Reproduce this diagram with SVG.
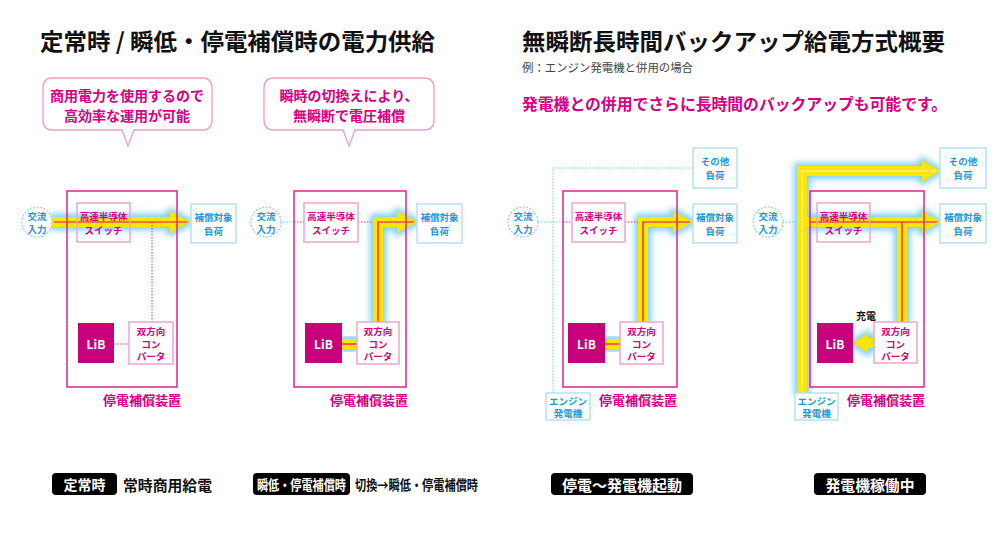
<svg xmlns="http://www.w3.org/2000/svg" width="1001" height="539" viewBox="0 0 1001 539">
<defs>
<style>
text{font-family:"Noto Sans CJK JP","Noto Sans",sans-serif;font-weight:bold;dominant-baseline:central;text-anchor:middle}
.ttl{font-size:23px;fill:#111;text-anchor:start}
.sub{font-size:11.5px;fill:#444;font-weight:normal;text-anchor:start}
.pk{font-size:16px;fill:#d4007f;text-anchor:start}
.co{fill:#fff;stroke:#eb9ecb;stroke-width:1.3}
.cot{font-size:14px;fill:#d4007f}
.dev{fill:none;stroke:#d42a8c;stroke-width:1.5}
.sw{fill:none;stroke:#eda6cf;stroke-width:1.5}
.cv{fill:#fff;stroke:#eda6cf;stroke-width:1.5}
.lib{fill:#c9007c}
.ld{fill:#fff;stroke:#aadcf3;stroke-width:1.3}
.cir{fill:#fff;stroke:#8dd0f0;stroke-width:1.2;stroke-dasharray:2 1.5}
.mt{font-size:9.5px;fill:#d4007f}
.bt{font-size:9.5px;fill:#1d98d5}
.lt{font-size:12px;fill:#fff}
.dl{font-size:13px;fill:#d4007f}
.bar{fill:#000}
.bw{fill:#fff}
.bk{fill:#111;text-anchor:start}
.glow{fill:#78cdf3;stroke:#78cdf3;stroke-width:6;stroke-linejoin:round;filter:url(#bl)}
.yel{fill:#ffe600}
.red{fill:none;stroke:#e4007f;stroke-width:1.2}
.pale{fill:none;stroke:#fff8b0;stroke-width:1}
.dotm{fill:none;stroke:#d9358f;stroke-width:1;stroke-dasharray:1.5 1.5}
.dotb{fill:none;stroke:#7cc8ee;stroke-width:1;stroke-dasharray:1.5 1.5}
</style>
<filter id="bl" x="-30%" y="-30%" width="160%" height="160%"><feGaussianBlur stdDeviation="3"/></filter>
<path id="a1" d="M52,217 H170 V211 L190,222 L170,233 V227 H52 Z"/>
<path id="a2" d="M373,322 V217 H397 V211 L417,222 L397,233 V227 H383 V322 Z"/>
<path id="a2b" d="M342,339 H357 V349 H342 Z"/>
<path id="a3" d="M638,322 V217 H673 V211 L693,222 L673,233 V227 H648 V322 Z"/>
<path id="a3b" d="M605,339 H620 V349 H605 Z"/>
<path id="a4" d="M797,393 V166 H922 V160 L940,171 L922,182 V176 H807 V393 Z"/>
<path id="a4b" d="M807,217 H922 V211 L940,222 L922,233 V227 H907 V322 H897 V227 H807 Z"/>
<path id="a4c" d="M874,338 H868 V333 L853,343 L868,353 V348 H874 Z"/>
</defs>
<rect width="1001" height="539" fill="#fff"/>

<g id="headings">
<text class="ttl" x="40" y="40" textLength="395" lengthAdjust="spacingAndGlyphs">定常時 / 瞬低・停電補償時の電力供給</text>
<text class="ttl" x="522" y="40" textLength="423" lengthAdjust="spacingAndGlyphs">無瞬断長時間バックアップ給電方式概要</text>
<text class="sub" x="522" y="67" textLength="171" lengthAdjust="spacingAndGlyphs">例：エンジン発電機と併用の場合</text>
<text class="pk" x="522" y="103" textLength="425" lengthAdjust="spacingAndGlyphs">発電機との併用でさらに長時間のバックアップも可能です。</text>
</g>

<g id="callout1">
<path class="co" d="M53,78 H202 Q212,78 212,88 V120 Q212,130 202,130 H134 L128,146 L122,130 H53 Q43,130 43,120 V88 Q43,78 53,78 Z"/>
<text class="cot" x="127" y="95">商用電力を使用するので</text>
<text class="cot" x="127" y="115">高効率な運用が可能</text>
</g>
<g id="callout2">
<path class="co" d="M274,78 H424 Q434,78 434,88 V120 Q434,130 424,130 H355 L349,146 L343,130 H274 Q264,130 264,120 V88 Q264,78 274,78 Z"/>
<text class="cot" x="349" y="95">瞬時の切換えにより、</text>
<text class="cot" x="349" y="115">無瞬断で電圧補償</text>
</g>

<g id="connectors">
<use href="#a1" class="glow"/><use href="#a2" class="glow"/><use href="#a2b" class="glow"/>
<use href="#a3" class="glow"/><use href="#a3b" class="glow"/>
<use href="#a4" class="glow"/><use href="#a4b" class="glow"/><use href="#a4c" class="glow"/>
<use href="#a1" class="yel"/><use href="#a2" class="yel"/><use href="#a2b" class="yel"/>
<use href="#a3" class="yel"/><use href="#a3b" class="yel"/>
<use href="#a4" class="yel"/><use href="#a4b" class="yel"/><use href="#a4c" class="yel"/>
<path class="red" d="M54,222 H187"/>
<path class="red" d="M378,322 V222 H414"/>
<path class="red" d="M342,344 H357"/>
<path class="red" d="M643,322 V222 H690"/>
<path class="red" d="M605,344 H620"/>
<path class="pale" d="M802,393 V171 H936"/>
<path class="red" d="M809,222 H937 M902,222 V322"/>
<path class="dotm" d="M152,222 V322 M114,344 H129"/>
<path class="dotb" d="M281,222 H294"/>
<path class="dotm" d="M294,222 H304 M358,222 H373"/>
<path class="dotb" d="M538,222 H563"/>
<path class="dotm" d="M563,222 H572 M625,222 H638"/>
<path class="dotb" d="M553,393 V168 H693"/>
<path class="dotb" d="M783,222 H797"/>
</g>

<!-- Panel 1 -->
<g id="p1-device"><rect class="dev" x="67" y="191" width="110" height="196"/><text class="dl" x="142" y="399">停電補償装置</text></g>
<g id="p1-input"><circle class="cir" cx="37" cy="222" r="15"/><text class="bt" x="37" y="215.5">交流</text><text class="bt" x="37" y="228.5">入力</text></g>
<g id="p1-switch"><rect class="sw" x="77" y="203" width="53" height="39"/><text class="mt" x="103.5" y="215.5">高速半導体</text><text class="mt" x="103.5" y="230">スイッチ</text></g>
<g id="p1-load"><rect class="ld" x="191" y="204" width="45" height="39"/><text class="bt" x="213.5" y="216.5">補償対象</text><text class="bt" x="213.5" y="231">負荷</text></g>
<g id="p1-lib"><rect class="lib" x="78" y="323" width="36" height="40"/><text class="lt" x="96" y="343">LiB</text></g>
<g id="p1-conv"><rect class="cv" x="129" y="322" width="44" height="42"/><text class="mt" x="151" y="331">双方向</text><text class="mt" x="151" y="343.5">コン</text><text class="mt" x="151" y="356">パータ</text></g>

<!-- Panel 2 -->
<g id="p2-device"><rect class="dev" x="294" y="191" width="112" height="196"/><text class="dl" x="369" y="399">停電補償装置</text></g>
<g id="p2-input"><circle class="cir" cx="266" cy="222" r="15"/><text class="bt" x="266" y="215.5">交流</text><text class="bt" x="266" y="228.5">入力</text></g>
<g id="p2-switch"><rect class="sw" x="304" y="203" width="54" height="39"/><text class="mt" x="331" y="215.5">高速半導体</text><text class="mt" x="331" y="230">スイッチ</text></g>
<g id="p2-load"><rect class="ld" x="417" y="204" width="45" height="39"/><text class="bt" x="439.5" y="216.5">補償対象</text><text class="bt" x="439.5" y="231">負荷</text></g>
<g id="p2-lib"><rect class="lib" x="305" y="323" width="37" height="40"/><text class="lt" x="323.5" y="343">LiB</text></g>
<g id="p2-conv"><rect class="cv" x="357" y="322" width="42" height="42"/><text class="mt" x="378" y="331">双方向</text><text class="mt" x="378" y="343.5">コン</text><text class="mt" x="378" y="356">パータ</text></g>

<!-- Panel 3 -->
<g id="p3-device"><rect class="dev" x="563" y="191" width="114" height="196"/><text class="dl" x="638" y="399">停電補償装置</text></g>
<g id="p3-input"><circle class="cir" cx="523" cy="222" r="15"/><text class="bt" x="523" y="215.5">交流</text><text class="bt" x="523" y="228.5">入力</text></g>
<g id="p3-switch"><rect class="sw" x="572" y="203" width="53" height="39"/><text class="mt" x="598.5" y="215.5">高速半導体</text><text class="mt" x="598.5" y="230">スイッチ</text></g>
<g id="p3-load"><rect class="ld" x="693" y="204" width="44" height="39"/><text class="bt" x="715" y="216.5">補償対象</text><text class="bt" x="715" y="231">負荷</text></g>
<g id="p3-other"><rect class="ld" x="693" y="148" width="44" height="40"/><text class="bt" x="715" y="161">その他</text><text class="bt" x="715" y="175">負荷</text></g>
<g id="p3-lib"><rect class="lib" x="568" y="323" width="37" height="40"/><text class="lt" x="586.5" y="343">LiB</text></g>
<g id="p3-conv"><rect class="cv" x="620" y="322" width="43" height="42"/><text class="mt" x="641.5" y="331">双方向</text><text class="mt" x="641.5" y="343.5">コン</text><text class="mt" x="641.5" y="356">パータ</text></g>
<g id="p3-engine"><rect class="ld" x="546" y="393" width="44" height="27"/><text class="bt" x="568" y="400.5">エンジン</text><text class="bt" x="568" y="413">発電機</text></g>

<!-- Panel 4 -->
<g id="p4-device"><rect class="dev" x="810" y="191" width="114" height="196"/><text class="dl" x="886" y="399">停電補償装置</text></g>
<g id="p4-input"><circle class="cir" cx="768" cy="222" r="15"/><text class="bt" x="768" y="215.5">交流</text><text class="bt" x="768" y="228.5">入力</text></g>
<g id="p4-switch"><rect class="sw" x="817" y="203" width="53" height="39"/><text class="mt" x="843.5" y="215.5">高速半導体</text><text class="mt" x="843.5" y="230">スイッチ</text></g>
<g id="p4-load"><rect class="ld" x="940" y="204" width="46" height="39"/><text class="bt" x="963" y="216.5">補償対象</text><text class="bt" x="963" y="231">負荷</text></g>
<g id="p4-other"><rect class="ld" x="940" y="148" width="46" height="40"/><text class="bt" x="963" y="161">その他</text><text class="bt" x="963" y="175">負荷</text></g>
<g id="p4-lib"><rect class="lib" x="817" y="323" width="36" height="40"/><text class="lt" x="835" y="343">LiB</text></g>
<g id="p4-conv"><rect class="cv" x="874" y="322" width="43" height="41"/><text class="mt" x="895.5" y="331">双方向</text><text class="mt" x="895.5" y="343.5">コン</text><text class="mt" x="895.5" y="356">パータ</text></g>
<g id="p4-engine"><rect class="ld" x="795" y="393" width="43" height="27"/><text class="bt" x="816.5" y="400.5">エンジン</text><text class="bt" x="816.5" y="413">発電機</text></g>
<g id="p4-charge"><text x="866" y="315" style="font-size:10px;fill:#111">充電</text></g>

<!-- Bottom labels -->
<g id="label1"><rect class="bar" x="52" y="473" width="65" height="22" rx="4"/><text class="bw" x="84.5" y="484" style="font-size:14px">定常時</text><text class="bk" x="123" y="484" style="font-size:14.5px" textLength="89" lengthAdjust="spacingAndGlyphs">常時商用給電</text></g>
<g id="label2"><rect class="bar" x="253" y="473" width="97" height="22" rx="4"/><text class="bw" x="301.5" y="484" style="font-size:13.5px" textLength="89" lengthAdjust="spacingAndGlyphs">瞬低・停電補償時</text><text class="bk" x="355" y="484" style="font-size:14px" textLength="123" lengthAdjust="spacingAndGlyphs">切換→瞬低・停電補償時</text></g>
<g id="label3"><rect class="bar" x="551" y="473" width="142" height="22" rx="4"/><text class="bw" x="622" y="484" style="font-size:15px" textLength="120" lengthAdjust="spacingAndGlyphs">停電〜発電機起動</text></g>
<g id="label4"><rect class="bar" x="814" y="473" width="112" height="22" rx="4"/><text class="bw" x="870" y="484" style="font-size:15px" textLength="89" lengthAdjust="spacingAndGlyphs">発電機稼働中</text></g>
</svg>
